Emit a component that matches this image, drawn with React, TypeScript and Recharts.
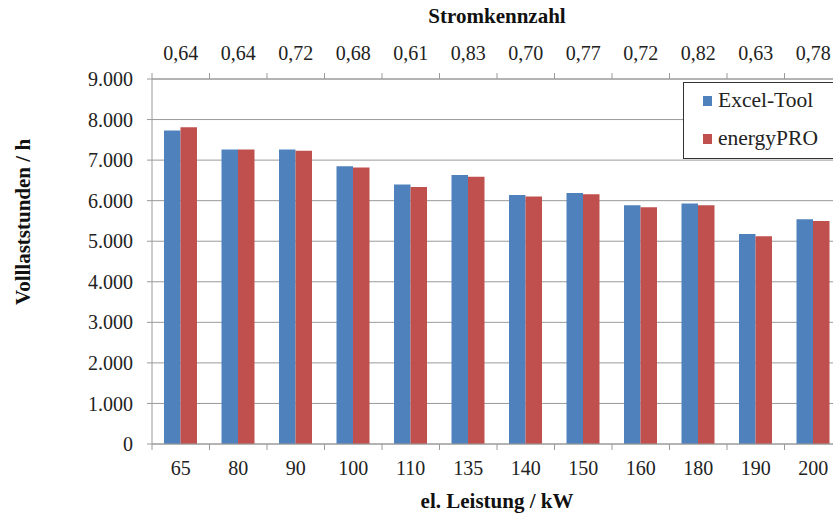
import { BarChart, Bar, XAxis, YAxis, CartesianGrid } from "recharts"

// el. Leistung / kW
const leistung = ["65", "80", "90", "100", "110", "135", "140", "150", "160", "180", "190", "200"]
// Stromkennzahl (obere Achse)
const stromkennzahl = ["0,64", "0,64", "0,72", "0,68", "0,61", "0,83", "0,70", "0,77", "0,72", "0,82", "0,63", "0,78"]
const excelTool = [7730, 7260, 7260, 6850, 6400, 6630, 6140, 6190, 5890, 5930, 5180, 5540]
const energyPro = [7810, 7260, 7230, 6820, 6340, 6590, 6100, 6160, 5840, 5890, 5120, 5500]
const yTicks = [0, 1000, 2000, 3000, 4000, 5000, 6000, 7000, 8000, 9000]

const series = [
  { key: "excel", name: "Excel-Tool", color: "#4F81BD" },
  { key: "energy", name: "energyPRO", color: "#C0504D" },
]

const data = leistung.map((kw, i) => ({
  kw,
  excel: excelTool[i],
  energy: energyPro[i],
}))

const CHART_W = 842
const CHART_H = 518
const Y_W = 152
const BAND = (CHART_W - Y_W) / leistung.length
const FONT = "Liberation Serif"
const GRID = "#9a9a9a"

const fmtDe = (v: number) => String(v).replace(/\B(?=(\d{3})+(?!\d))/g, ".")

const BottomTick = (props: any) => {
  const { x, y, payload, index } = props
  return (
    <g>
      <line x1={x - BAND / 2} x2={x - BAND / 2} y1={y} y2={y + 6} stroke={GRID} />
      {index === leistung.length - 1 && (
        <line x1={x + BAND / 2} x2={x + BAND / 2} y1={y} y2={y + 6} stroke={GRID} />
      )}
      <text x={x} y={y + 31} textAnchor="middle" style={{ fontFamily: FONT }} fontSize={20} fill="#222">
        {payload.value}
      </text>
    </g>
  )
}

const TopTick = (props: any) => {
  const { x, y, index } = props
  return (
    <g>
      <line x1={x - BAND / 2} x2={x - BAND / 2} y1={y - 6} y2={y} stroke={GRID} />
      <text x={x} y={y - 19} textAnchor="middle" style={{ fontFamily: FONT }} fontSize={20} fill="#222">
        {stromkennzahl[index]}
      </text>
    </g>
  )
}

export default function App() {
  return (
    <div
      style={{
        position: "absolute",
        left: 0,
        top: 0,
        width: 833,
        height: 518,
        overflow: "hidden",
        background: "#fff",
        fontFamily: FONT,
      }}
    >
      <BarChart
        width={CHART_W}
        height={CHART_H}
        data={data}
        margin={{ top: 39, right: 0, bottom: 0, left: 0 }}
        barGap={0}
        style={{ fontFamily: FONT }}
      >
        <CartesianGrid vertical={false} stroke={GRID} />
        <XAxis
          dataKey="kw"
          height={74}
          axisLine={{ stroke: GRID }}
          tickLine={false}
          tickSize={0}
          tickMargin={0}
          interval={0}
          tick={<BottomTick />}
        />
        <XAxis
          xAxisId="top"
          dataKey="kw"
          orientation="top"
          height={40}
          axisLine={{ stroke: GRID }}
          tickLine={false}
          tickSize={0}
          tickMargin={0}
          interval={0}
          tick={<TopTick />}
        />
        <YAxis
          width={Y_W}
          domain={[0, 9000]}
          ticks={yTicks}
          interval={0}
          axisLine={{ stroke: GRID }}
          tickLine={{ stroke: GRID }}
          tickSize={5}
          tickMargin={14}
          tickFormatter={fmtDe}
          tick={{ style: { fontFamily: FONT }, fontSize: 20, fill: "#222" }}
        />
        {series.map((s) => (
          <Bar key={s.key} dataKey={s.key} name={s.name} fill={s.color} barSize={16.5} isAnimationActive={false} />
        ))}
      </BarChart>

      <div
        style={{
          position: "absolute",
          left: Y_W,
          top: 4,
          width: CHART_W - Y_W,
          textAlign: "center",
          fontWeight: "bold",
          fontSize: 21,
          color: "#111",
        }}
      >
        Stromkennzahl
      </div>
      <div
        style={{
          position: "absolute",
          left: Y_W,
          top: 489,
          width: CHART_W - Y_W,
          textAlign: "center",
          fontWeight: "bold",
          fontSize: 21,
          color: "#111",
        }}
      >
        el. Leistung / kW
      </div>
      <div
        style={{
          position: "absolute",
          left: 23,
          top: 222,
          transform: "translate(-50%, -50%) rotate(-90deg)",
          whiteSpace: "nowrap",
          fontWeight: "bold",
          fontSize: 21,
          color: "#111",
        }}
      >
        Volllaststunden / h
      </div>

      <div
        style={{
          position: "absolute",
          left: 683,
          top: 82,
          width: 170,
          height: 75,
          border: "1px solid #333",
          background: "#fff",
          fontSize: 21.5,
          color: "#222",
        }}
      >
        {series.map((s, i) => (
          <div
            key={s.key}
            style={{ position: "absolute", left: 19, top: 5 + i * 38, display: "flex", alignItems: "center" }}
          >
            <span style={{ display: "inline-block", width: 9, height: 10, background: s.color, marginRight: 6 }} />
            <span>{s.name}</span>
          </div>
        ))}
      </div>
    </div>
  )
}
